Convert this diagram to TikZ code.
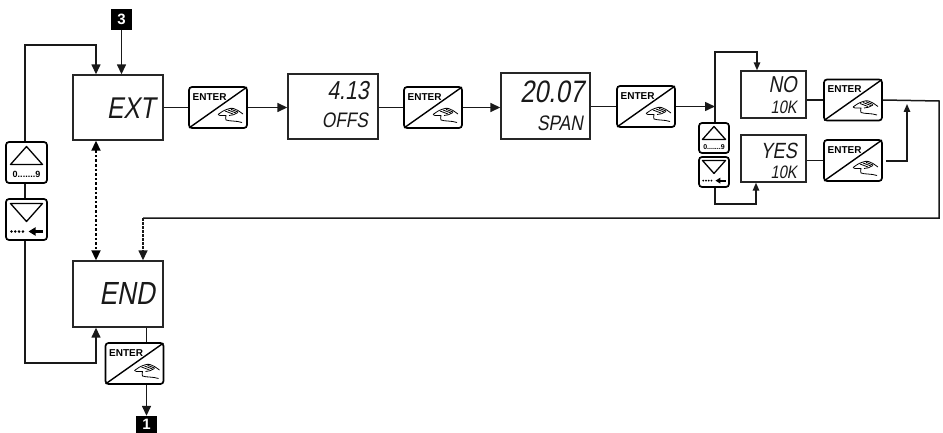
\documentclass[tikz,border=0pt]{standalone}
\usepackage{fontspec}
\setmainfont{Liberation Sans}
\newfontfamily\lcd[FakeSlant=0.18,FakeStretch=0.82]{Liberation Sans}
\usetikzlibrary{arrows.meta,calc}
\tikzset{
  wire/.style={line width=1.5pt,draw=black!90},
  arr/.style={wire,-{Triangle[length=10pt,width=9pt]}},
  arrs/.style={wire,-{Triangle[length=8pt,width=6.5pt]}},
  dotconn/.style={line width=1.9pt,dash pattern=on 2.6pt off 2pt},
  disp/.style={draw=black!85,line width=1.4pt,fill=white,inner sep=0pt},
  key/.style={draw=black,line width=1.7pt,rounded corners=3pt,fill=white,inner sep=0pt},
  badge/.style={fill=black,text=white,font=\bfseries\fontsize{15}{15}\selectfont,minimum width=21pt,minimum height=21pt,inner sep=0pt},
  lcdtxt/.style={font=\lcd,anchor=south east,inner sep=0pt,text=black!90}
}
\newcommand{\enterkey}[1]{%
  \draw[line width=1.4pt] ($(#1.south west)+(1,-1)$) -- ($(#1.north east)+(-1,1)$);
  \node[inner sep=0pt,anchor=west,font=\bfseries\fontsize{10}{10}\selectfont] at ($(#1.center)+(-25.5,-10.5)$) {ENTER};
  \begin{scope}[shift={(#1.center)},line width=.8pt]
    \draw (0,7) .. controls (3,5) and (5,3) .. (10,1.5) .. controls (14,0) and (17,1) .. (20,3) -- (25,6.5);
    \draw (0,7) .. controls (2,9) and (6,7.5) .. (8,8) .. controls (9,10) and (6,11) .. (8,12.5) .. controls (12,14) and (18,13) .. (24,15);
    \draw (11,8) .. controls (14,8) and (17,7) .. (20,5);
    \draw (7,3.5) -- (15,6.5) (10,2.5) -- (18,5.5) (13,1.8) -- (20,4.5);
  \end{scope}
}
\newcommand{\upkey}[3]{%
  \draw[line width=1.3pt,line join=round] ($(#1.center)+(-#2*16,#2*2)$) -- ($(#1.center)+(0,-#2*16)$) -- ($(#1.center)+(#2*16,#2*2)$) -- cycle;
  \node[inner sep=0pt,font=\bfseries\fontsize{#3}{#3}\selectfont] at ($(#1.center)+(0,#2*12)$) {0.......9};
}
\newcommand{\downkey}[3]{%
  \draw[line width=1.3pt,line join=round] ($(#1.center)+(-#2*16,-#2*16)$) -- ($(#1.center)+(0,#2*2)$) -- ($(#1.center)+(#2*16,-#2*16)$) -- cycle;
  \foreach \i in {0,1,2,3} \fill ($(#1.center)+(-#2*15+\i*#2*3.8,#2*12)$) circle (#2*1.4);
  \draw[line width=#2*2.4pt,-{Triangle[length=#2*7pt,width=#2*8pt]}] ($(#1.center)+(#2*16,#2*12)$) -- ($(#1.center)+(#2*2,#2*12)$);
}
\begin{document}
\begin{tikzpicture}[x=1pt,y=-1pt]
\useasboundingbox (0,0) rectangle (943,433);
% displays
\node[disp,minimum width=90pt,minimum height=65pt] (ext) at (118,107.5) {};
\node[disp,minimum width=90pt,minimum height=65pt] (offs) at (333,106.5) {};
\node[disp,minimum width=89pt,minimum height=66pt] (span) at (545.5,106) {};
\node[disp,minimum width=65pt,minimum height=47pt] (no) at (773.5,94.5) {};
\node[disp,minimum width=65pt,minimum height=47pt] (yes) at (773.5,158.5) {};
\node[disp,minimum width=90pt,minimum height=66pt] (end) at (118,294) {};
% display text
\node[lcdtxt,font=\lcd\fontsize{30}{30}\selectfont] (textext) at (155,119) {EXT};
\node[lcdtxt,font=\lcd\fontsize{26}{26}\selectfont] (text413) at (369,100) {4.13};
\node[lcdtxt,font=\lcd\fontsize{21}{21}\selectfont] (textoffs) at (368,128) {OFFS};
\node[lcdtxt,font=\lcd\fontsize{31}{31}\selectfont] (text2007) at (584,103) {20.07};
\node[lcdtxt,font=\lcd\fontsize{21}{21}\selectfont] (textspan) at (583,131) {SPAN};
\node[lcdtxt,font=\lcd\fontsize{23}{23}\selectfont] (textno) at (797,93) {NO};
\node[lcdtxt,font=\lcd\fontsize{18}{18}\selectfont] (text10a) at (797,114) {10K};
\node[lcdtxt,font=\lcd\fontsize{22}{22}\selectfont] (textyes) at (797,159) {YES};
\node[lcdtxt,font=\lcd\fontsize{18}{18}\selectfont] (text10b) at (797,179) {10K};
\node[lcdtxt,font=\lcd\fontsize{32}{32}\selectfont] (textend) at (155,305) {END};
% enter keys
\foreach \n/\x/\y in {k1/218/107.5,k2/433/107.5,k3/646/106.5,k4/853/100,k5/853/160.5,k6/134.5/363.5}{
  \node[key,minimum width=58pt,minimum height=41pt] (\n) at (\x,\y) {};
  \enterkey{\n}
}
% arrow keys
\node[key,minimum width=41pt,minimum height=41pt] (upb) at (26.5,162.5) {};
\node[key,minimum width=41pt,minimum height=41pt] (dnb) at (26.5,219.5) {};
\node[key,minimum width=30pt,minimum height=30pt] (ups) at (714,138) {};
\node[key,minimum width=30pt,minimum height=30pt] (dns) at (714,172) {};
\upkey{upb}{1}{9}
\downkey{dnb}{1}{9}
\upkey{ups}{.72}{7}
\downkey{dns}{.72}{7}
% badges
\node[badge] (b3) at (121.5,19.5) {3};
\node[badge,minimum height=17pt] (b1) at (146.5,424.5) {1};
% free ends
\coordinate (jA) at (25,45);
\coordinate (jB) at (96,45);
\coordinate (jC) at (715,52);
\coordinate (jD) at (757,52);
\coordinate (jE) at (715,204);
\coordinate (jF) at (756,204);
\coordinate (jG) at (25,363);
\coordinate (jH) at (96,363);
\coordinate (jI) at (939,101);
\coordinate (jJ) at (939,218);
\coordinate (jK) at (143,218);
\coordinate (jM) at (907,161);
\coordinate (jN) at (907,104);
% left loop
\draw[arr] (upb.north -| jA) -- (jA) -- (jB) -- (ext.north -| jB);
\draw[wire] (upb.south -| jA) -- (dnb.north -| jA);
\draw[arr] (dnb.south -| jA) -- (jG) -- (jH) -- (end.south -| jH);
\draw[arr] (b3) -- (ext.north -| b3);
\draw[dotconn,{Triangle[length=10pt,width=9pt]}-{Triangle[length=10pt,width=9pt]}] (ext.south -| jB) -- (end.north -| jB);
% main row
\draw[wire] (ext.east |- k1) -- (k1.west);
\draw[arr] (k1.east) -- (offs.west |- k1);
\draw[wire] (offs.east |- k2) -- (k2.west);
\draw[arr] (k2.east) -- (span.west |- k2);
\draw[wire] (span.east |- k3) -- (k3.west);
\draw[arr] (k3.east) -- (jC |- k3);
% right part
\draw[arrs] (ups.north -| jC) -- (jC) -- (jD) -- (no.north -| jD);
\draw[arrs] (dns.south -| jE) -- (jE) -- (jF) -- (yes.south -| jF);
\draw[wire] (no.east |- k4) -- (k4.west);
\draw[wire] (yes.east |- k5) -- (k5.west);
\draw[arrs] ($(k5.east |- jM)+(3,0)$) -- (jM) -- (jN);
\draw[wire] (k4.east) -- (jI) -- (jJ) -- (jK);
\draw[wire,dash pattern=on 2.5pt off 1.5pt,-{Triangle[length=10pt,width=9pt]}] (jK) -- (end.north -| jK);
% end
\draw[wire] (end.south -| b1) -- (k6.north -| b1);
\draw[arr] (k6.south -| b1) -- (b1.north);
\end{tikzpicture}
\end{document}
